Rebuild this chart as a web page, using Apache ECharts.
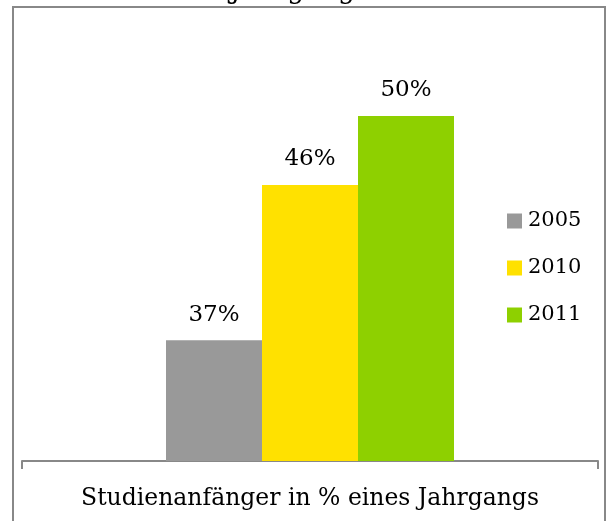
<!DOCTYPE html>
<html>
<head>
<meta charset="utf-8">
<script src="https://cdn.jsdelivr.net/npm/echarts@6/dist/echarts.min.js"></script>
<style>html,body{margin:0;padding:0;background:#fff;}#c{width:609px;height:521px;}</style>
</head>
<body>
<div id="c"></div>
<script>
var categories = ['Studienanfänger in % eines Jahrgangs'];
var seriesNames = ['2005', '2010', '2011'];
var values2005 = [37];
var values2010 = [46];
var values2011 = [50];
var colors = ['#999999', '#FFE100', '#8ED000'];
var FONT = 'DejaVu Serif';

var chart = echarts.init(document.getElementById('c'));
var seriesData = [values2005, values2010, values2011];
chart.setOption({
  animation: false,
  backgroundColor: '#ffffff',
  graphic: [
    { type: 'rect', shape: { x: 13, y: 7, width: 592, height: 530 }, style: { fill: 'none', stroke: '#888888', lineWidth: 2 }, z: 0 },
    { type: 'text', left: 230, top: -23, style: { text: 'Jahrgangs', font: '27px "DejaVu Serif"', fill: '#000' }, z: 10 }
  ],
  grid: { left: 22, right: 11, top: 29.75, bottom: 60 },
  legend: {
    orient: 'vertical', left: 502, top: 205,
    itemWidth: 15, itemHeight: 15, itemGap: 25,
    icon: 'rect',
    data: seriesNames,
    textStyle: { fontFamily: FONT, fontSize: 21, color: '#000', lineHeight: 22, padding: [0, 0, 0, 1] }
  },
  xAxis: {
    type: 'category', data: categories,
    axisLine: { lineStyle: { color: '#888888', width: 2 } },
    axisTick: { show: true, length: 8, lineStyle: { color: '#888888', width: 2 } },
    axisLabel: { margin: 26, fontFamily: FONT, fontSize: 23.5, color: '#000' }
  },
  yAxis: { type: 'value', min: 30, max: 55, show: false, splitLine: { show: false } },
  series: seriesNames.map(function (n, i) {
    return {
      name: n, type: 'bar', data: seriesData[i],
      barGap: '0%', barCategoryGap: '50%',
      itemStyle: { color: colors[i] },
      label: { show: true, position: 'top', distance: 14, formatter: '{c}%', fontFamily: FONT, fontSize: 23, color: '#000' }
    };
  })
});
</script>
</body>
</html>
